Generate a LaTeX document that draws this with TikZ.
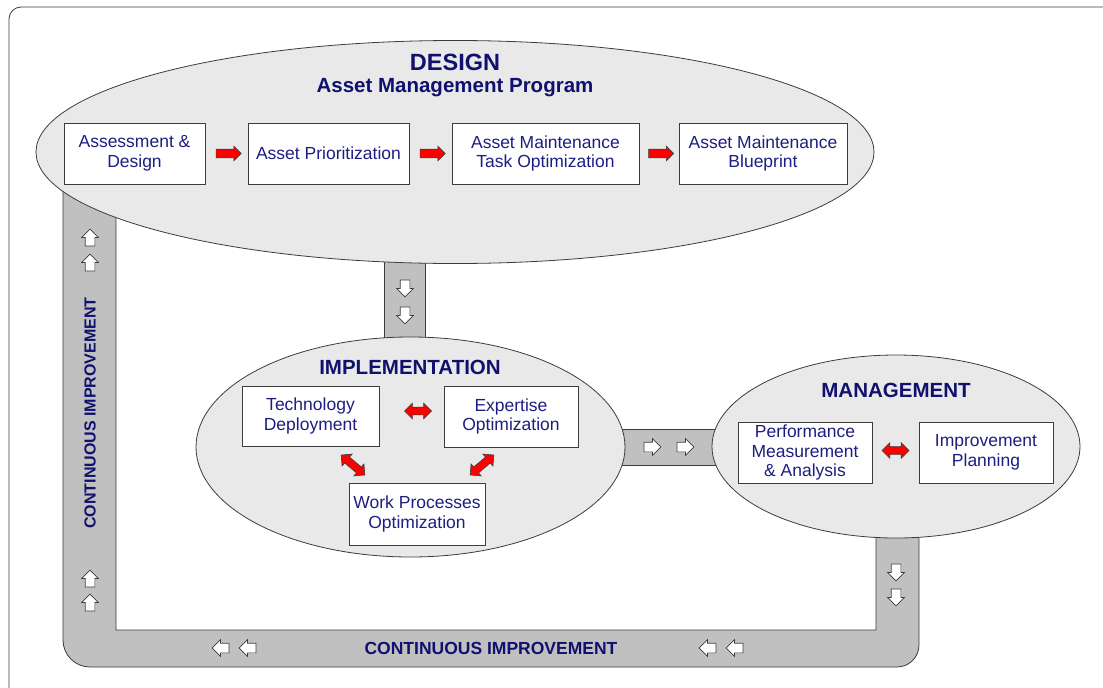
\documentclass[tikz,border=0pt]{standalone}
\usepackage{fontspec}
\setmainfont{Liberation Sans}
\usetikzlibrary{shapes.geometric,shapes.arrows,calc}
\definecolor{navy}{RGB}{16,16,110}
\definecolor{boxtxt}{RGB}{30,30,130}
\definecolor{ovalfill}{RGB}{233,233,233}
\definecolor{bandgray}{RGB}{192,192,192}
\definecolor{edge}{RGB}{60,60,60}

\begin{document}
\begin{tikzpicture}[x=1pt,y=-1pt,
    oval/.style={ellipse,draw=edge,fill=ovalfill,line width=0.8pt,inner sep=0pt},
    task/.style={draw=edge,fill=white,line width=0.8pt,align=center,inner sep=2pt,
      text=boxtxt,font=\fontsize{17.5}{19.5}\selectfont},
    ttl/.style={text=navy,anchor=base,font=\bfseries\fontsize{20.5}{23}\selectfont},
    band/.style={fill=bandgray,draw=edge,line width=0.8pt},
    redarr/.style={single arrow,fill=red,draw=edge,line width=0.6pt,inner xsep=0pt,
      inner ysep=4pt,single arrow head extend=3pt,minimum height=25pt},
    dblarr/.style={double arrow,fill=red,draw=edge,line width=0.6pt,inner xsep=0pt,
      inner ysep=3.5pt,double arrow head extend=4pt,minimum height=27pt},
    hollow/.style={single arrow,fill=white,draw=edge,line width=0.7pt,inner xsep=0pt,
      inner ysep=4.5pt,single arrow head extend=3.5pt,minimum height=17pt}]

  \fill[white,use as bounding box] (0,0) rectangle (1103,688);
  \clip (0,0) rectangle (1103,688);
  \draw[edge,line width=0.8pt,rounded corners=12pt] (9,7) rectangle (1125,710);

  % bands behind the ovals
  \draw[band] (63,150) [rounded corners=27pt] -- (63,667) -- (500,667)
    [rounded corners=22pt] -- (919,667) -- (919,446) [sharp corners] -- (876,446)
    -- (876,630) -- (116,630) -- (116,150) -- cycle;
  \draw[band] (384,240) rectangle (425,360);
  \draw[band] (600,429) rectangle (740,465);

  % ovals
  \node[oval,minimum width=838pt,minimum height=223pt] (design) at (455,152) {};
  \node[oval,minimum width=429pt,minimum height=220pt] (impl) at (410.5,447) {};
  \node[oval,minimum width=368pt,minimum height=183pt] (mgmt) at (896,446.5) {};

  \node[ttl,font=\bfseries\fontsize{23.5}{26}\selectfont] (dt) at (455,70) {DESIGN};
  \node[ttl] (dp) at (455,92) {Asset Management Program};
  \node[ttl] (it) at (410,374) {IMPLEMENTATION};
  \node[ttl] (mt) at (896,397) {MANAGEMENT};

  % design row
  \node[task,minimum width=141pt,minimum height=61pt] (ad) at (134.5,153.5) {Assessment \&\\Design};
  \node[task,minimum width=161pt,minimum height=61pt] (ap) at (328.5,153.5) {Asset Prioritization};
  \node[task,minimum width=187pt,minimum height=61pt] (at) at (545.5,153.5) {Asset Maintenance\\Task Optimization};
  \node[task,minimum width=168pt,minimum height=61pt] (ab) at (763,153.5) {Asset Maintenance\\Blueprint};

  \node[redarr] (r1) at ($(ad.east)!.5!(ap.west)$) {};
  \node[redarr] (r2) at ($(ap.east)!.5!(at.west)$) {};
  \node[redarr] (r3) at ($(at.east)!.5!(ab.west)$) {};

  % implementation
  \node[task,minimum width=137pt,minimum height=60pt] (td) at (310.5,416) {Technology\\Deployment};
  \node[task,minimum width=134pt,minimum height=61pt] (eo) at (511,416.5) {Expertise\\Optimization};
  \node[task,minimum width=136pt,minimum height=62pt] (wp) at (417,514) {Work Processes\\Optimization};

  \node[dblarr] (d1) at (418,411) {};
  \node[dblarr,minimum height=31pt,rotate=-40] (d2) at (353,465) {};
  \node[dblarr,minimum height=31pt,rotate=40] (d3) at (482,465) {};

  % management
  \node[task,minimum width=134pt,minimum height=61pt] (pm) at (805,452.5) {Performance\\Measurement\\\& Analysis};
  \node[task,minimum width=134pt,minimum height=61pt] (ip) at (986,452.5) {Improvement\\Planning};

  \node[dblarr] (d4) at ($(pm.east)!.5!(ip.west)+(0,-2)$) {};

  % flow arrows on the bands
  \foreach \y in {240,265,581,605} \node[hollow,rotate=90] at (90,\y) {};
  \foreach \y in {286,313} \node[hollow,rotate=-90] at (405,\y) {};
  \foreach \x in {650,683} \node[hollow] at (\x,447) {};
  \foreach \y in {570,595} \node[hollow,rotate=-90] at (896,\y) {};
  \foreach \x in {223,250,710,737} \node[hollow,rotate=180] at (\x,648) {};

  \node[text=navy,font=\bfseries\fontsize{16}{18}\selectfont,rotate=90] (cl) at (90,413) {CONTINUOUS IMPROVEMENT};
  \node[text=navy,anchor=base,font=\bfseries\fontsize{17.5}{20}\selectfont] (cb) at (491,654) {CONTINUOUS IMPROVEMENT};
\end{tikzpicture}
\end{document}
